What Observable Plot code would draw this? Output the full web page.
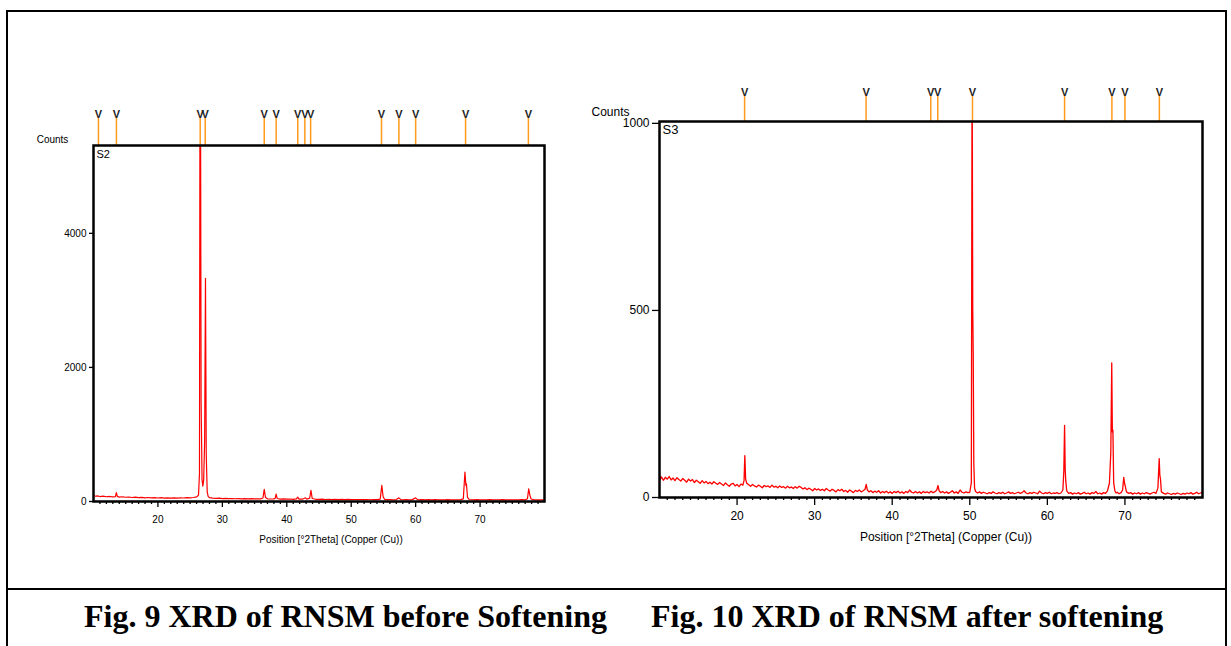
<!DOCTYPE html>
<html><head><meta charset="utf-8">
<script src="https://cdn.jsdelivr.net/npm/d3@7"></script>
<script src="https://cdn.jsdelivr.net/npm/@observablehq/plot@0.6"></script>
<style>
body{margin:0;background:#fff;width:1231px;height:646px;position:relative;overflow:hidden;font-family:"Liberation Sans",Arial,sans-serif}
#frame{position:absolute;left:6px;top:10px;width:1221px;height:700px;border:2px solid #000;box-sizing:border-box}
#sep{position:absolute;left:6px;top:588px;width:1221px;height:2px;background:#000}
.cap{position:absolute;top:600px;font-family:"Liberation Serif","Times New Roman",serif;font-weight:bold;font-size:32px;white-space:nowrap;color:#000;line-height:32px}
#c1{position:absolute;left:0;top:100px}
#c2{position:absolute;left:560px;top:70px}
</style></head><body>
<div id="frame"></div>
<div id="sep"></div>
<div id="c1"></div>
<div id="c2"></div>
<div class="cap" id="cap1" style="left:84px"></div>
<div class="cap" id="cap2" style="left:651px"></div>
<script>
// ---------- data ----------
const captions = ["Fig. 9 XRD of RNSM before Softening", "Fig. 10 XRD of RNSM after softening"];
const xTitle = "Position [°2Theta] (Copper (Cu))";
const yTitle = "Counts";
const sampleNames = ["S2", "S3"];
const xDomain = [10, 80];
const xMajorTicks = [20, 30, 40, 50, 60, 70];
const xMinorTicks = [11,12,13,14,15,16,17,18,19,21,22,23,24,25,26,27,28,29,31,32,33,34,35,36,37,38,39,41,42,43,44,45,46,47,48,49,51,52,53,54,55,56,57,58,59,61,62,63,64,65,66,67,68,69,71,72,73,74,75,76,77,78,79];

// S2 (before softening): [°2θ, counts]
const s2YMax = 5310;
const s2YTicks = [0, 2000, 4000];
const s2Refs = [10.77, 13.56, 26.56, 27.34, 36.5, 38.35, 41.7, 42.8, 43.7, 54.7, 57.4, 60.0, 67.75, 77.5];
const s2Pattern = [
 [10.0,92],[10.3,78],[10.6,83],[11.0,74],[11.5,80],[12.0,71],[12.5,75],[13.0,68],[13.4,73],[13.55,132],[13.7,76],[14.0,66],
 [14.5,71],[15.0,63],[15.5,67],[16.0,60],[16.5,65],[17.0,58],[17.5,62],[18.0,55],[18.5,60],[19.0,54],[19.5,58],[20.0,52],
 [20.5,57],[21.0,50],[21.5,55],[22.0,49],[22.5,54],[23.0,50],[23.5,55],[24.0,52],[24.5,57],[25.0,55],[25.5,60],[26.0,68],
 [26.3,95],[26.45,420],[26.56,9000],[26.7,1500],[26.85,320],[26.97,230],[27.1,320],[27.25,900],[27.38,3330],[27.5,700],
 [27.65,140],[27.8,75],[28.0,58],[28.5,50],[29.0,46],[29.5,49],[30.0,44],[30.5,47],[31.0,42],[31.5,45],[32.0,41],[32.5,44],
 [33.0,40],[33.5,43],[34.0,39],[34.5,42],[35.0,38],[35.5,41],[36.0,40],[36.3,52],[36.5,180],[36.7,58],[37.0,40],[37.5,37],
 [38.0,39],[38.2,48],[38.35,110],[38.5,45],[39.0,36],[39.5,38],[40.0,34],[40.5,37],[41.0,33],[41.5,38],[41.7,65],[41.9,36],
 [42.4,34],[42.9,55],[43.1,35],[43.55,48],[43.75,165],[43.95,45],[44.5,33],[45.0,31],[45.5,34],[46.0,30],[46.5,33],[47.0,29],
 [47.5,32],[48.0,29],[48.5,31],[49.0,28],[49.5,31],[50.0,28],[50.5,30],[51.0,27],[51.5,30],[52.0,27],[52.5,29],[53.0,26],
 [53.5,29],[54.0,27],[54.5,36],[54.75,240],[54.95,70],[55.2,30],[55.5,27],[56.0,29],[56.5,26],[57.0,29],[57.4,55],[57.7,28],
 [58.0,26],[58.5,28],[59.0,25],[59.5,28],[60.0,55],[60.3,27],[60.5,25],[61.0,28],[61.5,25],[62.0,27],[62.5,24],[63.0,27],
 [63.5,25],[64.0,26],[64.5,24],[65.0,27],[65.5,25],[66.0,26],[66.5,24],[67.0,27],[67.4,40],[67.65,440],[67.8,240],[67.88,265],
 [68.05,60],[68.3,30],[68.5,26],[69.0,25],[69.5,27],[70.0,24],[70.5,26],[71.0,24],[71.5,27],[72.0,25],[72.5,26],[73.0,24],
 [73.5,27],[74.0,25],[74.5,26],[75.0,24],[75.5,26],[76.0,25],[76.5,27],[77.0,25],[77.35,40],[77.55,190],[77.72,100],[77.9,40],
 [78.2,27],[78.5,25],[79.0,26],[79.5,24],[80.0,26]
];

// S3 (after softening): [°2θ, counts]
const s3YMax = 1005;
const s3YTicks = [0, 500, 1000];
const s3Refs = [20.97, 36.63, 44.97, 45.87, 50.35, 62.22, 68.32, 70.0, 74.44];
const s3Pattern = [
 [10.0,62],[10.1,48],[10.25,55],[10.5,46],[10.75,54],[11.0,49],[11.25,56],[11.5,47],[11.75,52],[12.0,45],[12.25,53],[12.5,48],
 [12.75,44],[13.0,51],[13.25,46],[13.5,41],[13.75,49],[14.0,44],[14.25,48],[14.5,40],[14.75,46],[15.0,42],[15.25,38],[15.5,45],
 [15.75,39],[16.0,43],[16.25,37],[16.5,41],[16.75,36],[17.0,42],[17.25,38],[17.5,35],[17.75,40],[18.0,36],[18.25,32],[18.5,39],
 [18.75,34],[19.0,30],[19.25,36],[19.5,38],[19.75,31],[20.0,35],[20.25,29],[20.5,36],[20.75,33],[20.9,45],[21.0,112],[21.1,50],
 [21.25,38],[21.5,34],[21.75,30],[22.0,35],[22.25,31],[22.5,28],[22.75,33],[23.0,30],[23.25,26],[23.5,32],[23.75,29],[24.0,31],
 [24.25,27],[24.5,33],[24.75,28],[25.0,30],[25.25,26],[25.5,31],[25.75,27],[26.0,29],[26.25,25],[26.5,30],[26.75,26],[27.0,28],
 [27.25,24],[27.5,29],[27.75,25],[28.0,30],[28.25,27],[28.5,23],[28.75,26],[29.0,21],[29.25,25],[29.5,22],[29.75,18],[30.0,24],
 [30.25,20],[30.5,23],[30.75,19],[31.0,22],[31.25,18],[31.5,24],[31.75,20],[32.0,17],[32.25,22],[32.5,19],[32.75,15],[33.0,21],
 [33.25,18],[33.5,22],[33.75,16],[34.0,19],[34.25,14],[34.5,20],[34.75,17],[35.0,13],[35.25,19],[35.5,16],[35.75,20],[36.0,15],
 [36.25,18],[36.5,22],[36.65,35],[36.8,20],[37.0,15],[37.25,18],[37.5,13],[37.75,17],[38.0,14],[38.25,18],[38.5,12],[38.75,16],
 [39.0,13],[39.25,17],[39.5,12],[39.75,15],[40.0,11],[40.25,16],[40.5,13],[40.75,17],[41.0,12],[41.25,15],[41.5,11],[41.75,16],
 [42.0,13],[42.25,20],[42.5,14],[42.75,12],[43.0,16],[43.25,12],[43.5,15],[43.75,11],[44.0,16],[44.25,13],[44.5,15],[44.75,12],
 [45.0,17],[45.25,13],[45.5,15],[45.75,20],[45.9,32],[46.05,18],[46.25,13],[46.5,16],[46.75,12],[47.0,15],[47.25,11],[47.5,14],
 [47.75,18],[48.0,12],[48.25,15],[48.5,11],[48.75,20],[49.0,14],[49.25,12],[49.5,15],[49.75,13],[50.0,14],[50.2,40],[50.3,1200],
 [50.38,505],[50.44,390],[50.52,90],[50.62,25],[50.75,16],[51.0,12],[51.25,15],[51.5,11],[51.75,14],[52.0,12],[52.25,10],[52.5,13],
 [52.75,11],[53.0,15],[53.25,12],[53.5,10],[53.75,13],[54.0,11],[54.25,14],[54.5,10],[54.75,12],[55.0,15],[55.25,11],[55.5,13],
 [55.75,10],[56.0,12],[56.25,14],[56.5,11],[56.75,13],[57.0,18],[57.25,12],[57.5,10],[57.75,13],[58.0,11],[58.25,14],[58.5,12],
 [58.75,10],[59.0,17],[59.25,12],[59.5,10],[59.75,13],[60.0,11],[60.25,14],[60.5,10],[60.75,12],[61.0,11],[61.25,13],[61.5,10],
 [61.75,12],[62.0,20],[62.12,70],[62.22,193],[62.3,75],[62.37,45],[62.5,18],[62.75,11],[63.0,13],[63.25,9],[63.5,12],[63.75,10],
 [64.0,13],[64.25,9],[64.5,11],[64.75,14],[65.0,10],[65.25,12],[65.5,9],[65.75,13],[66.0,11],[66.25,16],[66.5,10],[66.75,12],
 [67.0,9],[67.25,13],[67.5,11],[67.75,18],[68.0,38],[68.18,120],[68.3,360],[68.38,175],[68.45,180],[68.55,40],[68.7,18],[68.85,12],
 [69.0,14],[69.25,10],[69.5,13],[69.7,20],[69.85,54],[69.95,38],[70.05,30],[70.2,15],[70.5,11],[70.75,13],[71.0,9],[71.25,12],
 [71.5,10],[71.75,13],[72.0,9],[72.25,12],[72.5,10],[72.75,13],[73.0,11],[73.25,9],[73.5,12],[73.75,14],[74.0,11],[74.25,25],
 [74.42,104],[74.5,60],[74.58,50],[74.7,15],[75.0,11],[75.25,9],[75.5,12],[75.75,10],[76.0,8],[76.25,11],[76.5,9],[76.75,12],
 [77.0,10],[77.25,8],[77.5,11],[77.75,9],[78.0,12],[78.25,10],[78.5,13],[78.75,9],[79.0,11],[79.25,14],[79.5,10],[79.75,12],[80.0,15]
];

// ---------- drawing ----------
const ORANGE = "#ff9a1a";
function xrdPlot(o) {
  const fs = o.fs;
  return Plot.plot({
    width: o.width, height: o.height,
    marginLeft: o.ml, marginRight: o.mr, marginTop: o.mt, marginBottom: o.mb,
    style: {fontFamily: "'Liberation Sans', Arial, sans-serif", fontSize: fs + "px", background: "transparent", color: "#000", overflow: "visible"},
    x: {domain: xDomain, label: null},
    y: {domain: [0, o.ymax], label: null},
    marks: [
      Plot.axisX({ticks: xMinorTicks, tickSize: 3, tickFormat: () => "", strokeWidth: 1.3, label: null}),
      Plot.axisX({ticks: xMajorTicks, tickSize: o.majorTick, tickPadding: o.xPad, fontSize: fs, strokeWidth: 1.3, tickFormat: d => String(d), label: null}),
      Plot.axisY({ticks: o.yTicks, tickSize: o.yTick, tickPadding: 3, fontSize: fs, strokeWidth: 1.3, tickFormat: d => String(d), label: null}),
      Plot.line(o.pattern, {x: d => d[0], y: d => d[1], stroke: "#ff0000", strokeWidth: o.lw, clip: true}),
      Plot.ruleX(o.refs, {x: d => d, y1: () => o.ymax, y2: () => o.ymax, insetTop: -o.refLen, stroke: ORANGE, strokeWidth: 1.5}),
      Plot.text(o.refs, {x: d => d, frameAnchor: "top", text: () => "V", dy: -o.refLen - 4, lineAnchor: "middle", fontSize: 11, fontWeight: "bold", fill: "#222", fontFamily: "'Liberation Sans Narrow', 'Liberation Sans', sans-serif"}),
      Plot.frame({stroke: "#000", strokeWidth: 2.5}),
      Plot.text([yTitle], {frameAnchor: "top-left", text: d => d, dx: o.countsDx, dy: o.countsDy, lineAnchor: "middle", textAnchor: "middle", fontSize: fs}),
      Plot.text([o.name], {frameAnchor: "top-left", text: d => d, dx: 3, dy: o.nameDy, lineAnchor: "middle", textAnchor: "start", fontSize: fs + 1}),
      Plot.text([xTitle], {frameAnchor: "bottom", text: d => d, dx: o.titleDx, dy: o.titleDy, lineAnchor: "middle", fontSize: fs})
    ]
  });
}

document.getElementById("c1").append(xrdPlot({
  pattern: s2Pattern, refs: s2Refs, ymax: s2YMax, yTicks: s2YTicks, name: sampleNames[0],
  width: 560, height: 450, ml: 93, mr: 16, mt: 45, mb: 49, fs: 10, majorTick: 6, xPad: 8, yTick: 4, lw: 1.2,
  refLen: 27, countsDx: -41, countsDy: -6, nameDy: 9, titleDx: 12, titleDy: 38
}));
document.getElementById("c2").append(xrdPlot({
  pattern: s3Pattern, refs: s3Refs, ymax: s3YMax, yTicks: s3YTicks, name: sampleNames[1],
  width: 660, height: 490, ml: 99, mr: 18, mt: 51, mb: 63, fs: 12, majorTick: 8, xPad: 6, yTick: 7, lw: 1.3,
  refLen: 25, countsDx: -49, countsDy: -9, nameDy: 8, titleDx: 15, titleDy: 40
}));
document.getElementById("cap1").textContent = captions[0];
document.getElementById("cap2").textContent = captions[1];
</script>
</body></html>
